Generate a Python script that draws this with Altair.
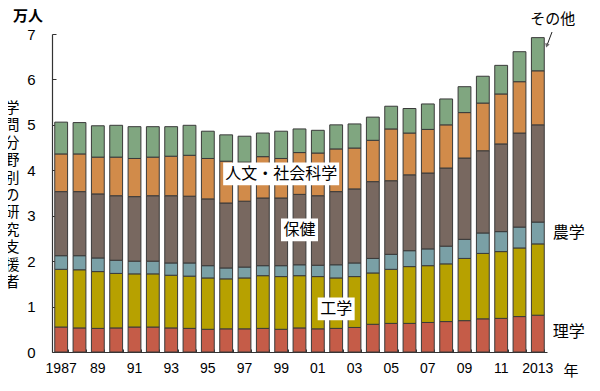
import altair as alt
import pandas as pd

years = list(range(1987, 2014))
fields = ["理学", "工学", "農学", "保健", "人文・社会科学", "その他"]
colors = ["#c55c48", "#b7a100", "#7aa0a6", "#786860", "#d18b4a", "#80a680"]

rigaku = [0.55, 0.53, 0.52, 0.53, 0.55, 0.55, 0.53, 0.52, 0.50, 0.51, 0.51, 0.52, 0.50, 0.53,
          0.51, 0.52, 0.54, 0.61, 0.63, 0.63, 0.65, 0.67, 0.69, 0.73, 0.74, 0.78, 0.81]
kogaku = [1.27, 1.28, 1.25, 1.20, 1.17, 1.17, 1.16, 1.15, 1.13, 1.10, 1.12, 1.16, 1.16, 1.15,
          1.15, 1.11, 1.12, 1.13, 1.19, 1.25, 1.25, 1.27, 1.37, 1.44, 1.47, 1.51, 1.57]
nogaku = [0.30, 0.31, 0.30, 0.29, 0.28, 0.28, 0.27, 0.29, 0.27, 0.24, 0.24, 0.22, 0.24, 0.24,
          0.25, 0.29, 0.30, 0.32, 0.33, 0.35, 0.37, 0.39, 0.42, 0.45, 0.44, 0.46, 0.48]
hoken = [1.41, 1.41, 1.41, 1.42, 1.42, 1.44, 1.48, 1.47, 1.47, 1.43, 1.45, 1.49, 1.49, 1.55,
         1.53, 1.61, 1.63, 1.69, 1.62, 1.67, 1.67, 1.72, 1.79, 1.81, 1.93, 2.07, 2.14]
jinbun = [0.83, 0.83, 0.81, 0.85, 0.84, 0.85, 0.87, 0.90, 0.89, 0.92, 0.86, 0.91, 0.87, 0.92,
          0.94, 0.94, 0.90, 0.91, 1.14, 0.92, 0.96, 0.95, 1.00, 1.05, 1.10, 1.13, 1.19]
sonota = [0.70, 0.69, 0.69, 0.70, 0.70, 0.67, 0.65, 0.66, 0.60, 0.58, 0.57, 0.52, 0.60, 0.52,
          0.50, 0.53, 0.53, 0.51, 0.50, 0.54, 0.56, 0.57, 0.57, 0.59, 0.63, 0.66, 0.73]

y_ticks = [0, 1, 2, 3, 4, 5, 6, 7]

# in-chart labels (boxed)
box_labels = ["人文・社会科学", "保健", "工学"]
box_years = [1999, 2000, 2002]
box_values = [3.92, 2.69, 0.95]
box_widths = [116, 37, 37]

series = [rigaku, kogaku, nogaku, hoken, jinbun, sonota]
rows = []
for i, (f, vals) in enumerate(zip(fields, series)):
    for y, v in zip(years, vals):
        rows.append({"year": y, "field": f, "value": v, "idx": i})
df = pd.DataFrame(rows)

W, H = 495, 318
JP = "Noto Sans CJK JP"
NUM = "Liberation Sans"

xscale = alt.Scale(domain=years, paddingInner=0.3, paddingOuter=0.15)
yscale = alt.Scale(domain=[0, 7], nice=False)

label_expr = ("datum.value % 2 == 1 ? ((datum.value == 1987 || datum.value == 2013) ? "
              "'' + datum.value : slice('' + datum.value, 2)) : ''")

bars = alt.Chart(df).mark_bar(stroke="#3a3a3a", strokeWidth=1).encode(
    x=alt.X("year:O", scale=xscale,
            axis=alt.Axis(orient="bottom", title=None, labelExpr=label_expr, labelAngle=0,
                          ticks=False, tickSize=0, labelPadding=9, labelFont=NUM,
                          labelFontSize=14, labelColor="#000", domainColor="#333",
                          domainWidth=1.2)),
    y=alt.Y("value:Q", stack="zero", scale=yscale,
            axis=alt.Axis(orient="left", title=None, values=y_ticks, ticks=False, tickSize=0,
                          grid=False, labelPadding=17, labelFont=NUM, labelFontSize=15,
                          labelColor="#000", domainColor="#333", domainWidth=1.2)),
    color=alt.Color("field:N", scale=alt.Scale(domain=fields, range=colors), legend=None),
    order=alt.Order("idx:Q"),
)

tick_layer = alt.Chart(df).mark_point(opacity=0).encode(
    x=alt.X("year:O", scale=xscale,
            axis=alt.Axis(orient="top", offset=-H, labels=False, domain=False, ticks=True,
                          tickSize=3, tickBand="extent", tickColor="#333", title=None)),
    y=alt.Y("value:Q", scale=yscale,
            axis=alt.Axis(orient="right", offset=-W, labels=False, domain=False, ticks=True,
                          tickSize=4, values=y_ticks, tickColor="#333", grid=False, title=None)),
)

ann = pd.DataFrame({"label": box_labels, "year": box_years, "v": box_values, "w": box_widths})
ann["lo"] = ann["v"] - 0.25
ann["hi"] = ann["v"] + 0.25

boxes = alt.Chart(ann).mark_bar(color="white").encode(
    x=alt.X("year:O", scale=xscale, axis=None),
    y=alt.Y("lo:Q", scale=yscale, axis=None),
    y2="hi:Q",
    size=alt.Size("w:Q", scale=None, legend=None),
)
box_text = alt.Chart(ann).mark_text(font=JP, fontSize=16, color="#000", baseline="middle").encode(
    x=alt.X("year:O", scale=xscale, axis=None),
    y=alt.Y("v:Q", scale=yscale, axis=None),
    text="label:N",
)

side = pd.DataFrame({"label": ["農学", "理学"], "year": [2013, 2013], "v": [2.63, 0.43]})
side_text = alt.Chart(side).mark_text(font=JP, fontSize=16, color="#000", align="left",
                                      baseline="middle", dx=15).encode(
    x=alt.X("year:O", scale=xscale, axis=None),
    y=alt.Y("v:Q", scale=yscale, axis=None),
    text="label:N",
)

other = pd.DataFrame({"label": ["その他"], "year": [2013], "v": [7.34]})
other_text = alt.Chart(other).mark_text(font=JP, fontSize=15, color="#000", align="center",
                                        baseline="middle", dx=15).encode(
    x=alt.X("year:O", scale=xscale, axis=None),
    y=alt.Y("v:Q", scale=yscale, axis=None),
    text="label:N",
)

arrow_line = alt.Chart(pd.DataFrame({"a": [0]})).mark_rule(color="#222", strokeWidth=1).encode(
    x=alt.value(500), y=alt.value(-2), x2=alt.value(495.5), y2=alt.value(10))
arrow_head = alt.Chart(pd.DataFrame({"a": [0]})).mark_point(
    shape="triangle", filled=True, color="#222", size=22, angle=200).encode(
    x=alt.value(495), y=alt.value(11))

unit_text = alt.Chart(pd.DataFrame({"t": ["万人"]})).mark_text(
    font=JP, fontSize=15, fontWeight="bold", color="#000", align="center", baseline="middle").encode(
    x=alt.value(-24), y=alt.value(-18), text="t:N")

year_text = alt.Chart(pd.DataFrame({"t": ["年"]})).mark_text(
    font=JP, fontSize=15, color="#000", align="center", baseline="middle").encode(
    x=alt.value(519), y=alt.value(337), text="t:N")

ytitle = alt.Chart(pd.DataFrame({"t": ["学\n問\n分\n野\n別\nの\n研\n究\n支\n援\n者"]})).mark_text(
    font=JP, fontSize=15, color="#000", align="center", baseline="top", lineBreak="\n",
    lineHeight=17.4).encode(
    x=alt.value(-40), y=alt.value(67), text="t:N")

chart = alt.layer(
    bars, tick_layer, boxes, box_text, side_text, other_text, arrow_line, arrow_head,
    unit_text, year_text, ytitle,
).resolve_axis(x="independent", y="independent").properties(
    width=W, height=H,
    padding={"left": 44, "top": 26, "right": 45, "bottom": 35},
    autosize=alt.AutoSizeParams(type="none"),
    background="white",
).configure_view(stroke=None)

chart.save("out.html", embed_options={"renderer": "svg", "actions": False})
